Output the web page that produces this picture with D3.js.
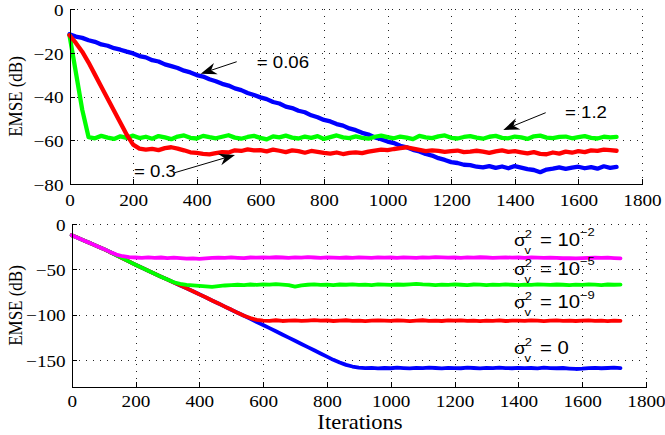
<!DOCTYPE html>
<html><head><meta charset="utf-8">
<script src="https://cdn.jsdelivr.net/npm/d3@7"></script>
<style>body{margin:0;background:#fff} svg{display:block}</style>
</head><body>
<svg id="chart" width="665" height="435"></svg>
<script>
// ---------------- data ----------------
const iterations = d3.range(0, 1721, 20); // 0..1720, step 20

// Top panel (step sizes)
const topBlue = [
 -11.5,-12.6,-13.2,-14.3,-15.0,-16.2,-16.8,-17.9,-18.6,-19.5,
 -20.3,-21.5,-22.1,-23.4,-24.0,-25.3,-26.1,-27.0,-28.2,-29.0,
 -30.2,-30.9,-32.1,-33.0,-34.2,-35.0,-36.3,-37.1,-38.4,-39.3,
 -40.4,-41.2,-42.5,-43.2,-44.6,-45.3,-46.5,-47.2,-48.6,-49.5,
 -50.7,-51.4,-52.6,-53.3,-54.6,-55.4,-56.6,-57.4,-58.7,-59.5,
 -60.6,-61.3,-62.5,-63.2,-64.4,-65.1,-66.3,-67.0,-68.2,-69.0,
 -70.0,-70.4,-71.2,-71.4,-72.1,-72.4,-71.8,-72.6,-72.0,-72.8,
 -71.8,-72.5,-73.2,-73.6,-74.6,-73.4,-73.0,-72.4,-73.1,-72.5,
 -72.1,-72.8,-72.3,-73.0,-71.9,-72.6,-72.2];
const topGreen = [
 -12,-29,-46,-58.6,-59.1,-58.0,-58.8,-59.4,-58.2,-58.9,
 -57.9,-59.0,-58.4,-59.3,-58.1,-58.7,-59.5,-58.3,-57.8,-58.9,
 -59.2,-58.0,-58.6,-59.1,-58.4,-57.7,-58.8,-59.3,-58.5,-58.0,
 -58.9,-59.6,-58.2,-58.7,-57.9,-58.8,-59.2,-58.3,-58.9,-58.1,
 -59.4,-58.6,-57.8,-58.7,-59.0,-58.2,-58.9,-59.3,-58.4,-57.9,
 -58.6,-59.1,-58.3,-58.8,-59.5,-58.0,-58.7,-59.0,-58.2,-57.8,
 -58.9,-59.2,-58.5,-58.1,-58.8,-59.3,-58.4,-58.0,-58.9,-59.1,
 -58.3,-58.7,-59.4,-58.2,-57.9,-58.8,-59.0,-58.5,-58.3,-59.1,
 -58.6,-58.1,-58.9,-59.2,-58.4,-58.7,-58.5];
const topRed = [
 -12,-15.5,-19.5,-24.5,-30,-35.5,-41,-46.5,-52,-57.5,
 -62.0,-63.8,-64.3,-63.9,-64.5,-63.6,-63.2,-63.8,-64.6,-65.5,
 -65.8,-66.2,-66.5,-65.9,-65.4,-65.6,-64.6,-64.9,-64.2,-64.6,
 -64.5,-65.1,-64.3,-64.8,-65.4,-64.6,-65.0,-65.7,-64.9,-65.3,
 -65.8,-66.1,-65.6,-66.3,-65.8,-65.5,-65.9,-65.2,-64.7,-64.3,
 -64.5,-64.0,-63.6,-63.2,-63.8,-64.4,-65.0,-64.6,-64.9,-65.3,
 -65.0,-64.7,-65.4,-65.2,-64.8,-65.2,-65.8,-65.1,-64.6,-65.3,
 -65.0,-65.5,-66.0,-65.4,-66.2,-66.4,-65.6,-66.1,-65.2,-65.7,
 -65.0,-65.4,-64.6,-64.9,-64.3,-64.5,-64.8];

// Bottom panel (noise variances)
const botBlue = [
 -12.5,-15.4,-18.6,-21.4,-24.6,-27.5,-31.0,-34.5,-38.0,-41.5,
 -45.0,-48.3,-51.6,-55.0,-58.2,-61.4,-64.6,-67.8,-71.0,-74.3,
 -77.6,-81.0,-84.4,-87.8,-91.2,-94.6,-98.0,-101.4,-104.8,-108.2,
 -111.6,-115.0,-118.5,-122.0,-125.5,-129.0,-132.5,-136.0,-139.5,-143.0,
 -146.5,-150.0,-153.0,-155.6,-157.4,-158.5,-159.2,-158.8,-159.4,-159.0,
 -159.3,-158.7,-159.1,-159.5,-158.9,-159.2,-158.6,-159.0,-159.4,-158.8,
 -159.1,-159.3,-158.7,-159.0,-159.5,-158.9,-159.2,-158.6,-159.1,-159.3,
 -158.8,-159.2,-159.0,-159.4,-158.7,-159.1,-159.3,-159.0,-159.6,-160.1,
 -159.8,-159.2,-158.9,-159.3,-159.0,-158.7,-159.1];
const botRed = [
 -12.5,-15.3,-18.5,-21.5,-24.5,-27.6,-31.1,-34.4,-38.1,-41.4,
 -45.1,-48.2,-51.7,-54.9,-58.3,-61.3,-64.7,-67.7,-71.1,-74.2,
 -77.7,-80.9,-84.5,-87.7,-91.3,-94.5,-98.1,-101.3,-103.9,-105.9,
 -106.6,-106.9,-106.3,-107.1,-106.7,-106.4,-107.0,-106.6,-106.2,-106.8,
 -106.5,-107.1,-106.7,-106.3,-106.9,-106.6,-107.2,-106.8,-106.4,-106.7,
 -107.0,-106.5,-106.8,-107.2,-106.6,-106.3,-106.9,-106.7,-107.1,-106.5,
 -106.8,-106.4,-107.0,-106.7,-107.2,-106.6,-106.9,-106.5,-107.1,-106.8,
 -106.6,-107.0,-106.4,-106.8,-107.2,-106.7,-106.5,-106.9,-106.6,-107.1,
 -106.8,-106.5,-107.0,-106.7,-107.2,-106.6,-106.9];
const botGreen = [
 -12.4,-15.5,-18.5,-21.4,-24.5,-27.5,-30.9,-34.5,-38.0,-41.5,
 -45.0,-48.3,-51.6,-55.0,-58.2,-61.4,-64.4,-66.2,-67.2,-67.8,
 -68.3,-68.8,-69.4,-68.7,-67.9,-67.4,-67.1,-67.5,-66.8,-67.2,
 -66.6,-67.0,-66.4,-66.9,-67.5,-69.2,-67.8,-67.1,-66.7,-67.2,
 -66.9,-67.4,-66.8,-67.1,-66.6,-67.2,-66.9,-67.4,-66.7,-67.0,
 -67.3,-66.8,-67.1,-66.6,-66.2,-66.7,-67.0,-67.4,-66.9,-67.2,
 -66.7,-67.1,-67.4,-66.8,-67.0,-67.5,-66.9,-67.2,-66.7,-67.1,
 -67.4,-66.9,-67.2,-66.6,-67.0,-67.3,-66.8,-67.1,-67.5,-66.9,
 -67.2,-66.7,-67.0,-67.4,-66.8,-67.1,-66.9];
const botMagenta = [
 -12.5,-15.4,-18.6,-21.4,-24.6,-27.5,-30.8,-33.8,-35.6,-36.6,
 -37.0,-37.4,-36.8,-37.3,-37.0,-37.6,-37.2,-37.8,-38.3,-38.0,
 -38.4,-37.9,-37.5,-37.1,-37.4,-36.9,-37.3,-37.6,-37.0,-37.2,
 -36.8,-37.1,-36.7,-37.0,-37.4,-36.9,-37.2,-36.6,-37.0,-37.3,
 -36.9,-37.2,-37.5,-37.0,-37.3,-36.8,-37.1,-37.4,-36.9,-37.2,
 -37.0,-37.3,-36.8,-37.1,-37.4,-36.9,-37.2,-36.6,-36.9,-37.2,
 -37.0,-37.3,-36.9,-37.2,-36.7,-37.0,-37.4,-37.1,-36.8,-37.2,
 -37.0,-37.3,-36.9,-37.2,-37.5,-37.1,-37.4,-37.8,-37.6,-37.9,
 -37.7,-37.4,-37.1,-37.5,-37.2,-37.6,-37.9];

const xTicks = [0,200,400,600,800,1000,1200,1400,1600,1800];
const topYTicks = [0,-20,-40,-60,-80];
const botYTicks = [0,-50,-100,-150];

const topLabels = ["= 0.06", "= 0.3", "= 1.2"];
const botLabelExps = ["−2", "−5", "−9", null];

// ---------------- drawing ----------------
const SX = 1.13;               // horizontal stretch of the original figure
const serif = "'Liberation Serif','Times New Roman',serif";
const sans = "'Liberation Sans',Arial,Helvetica,sans-serif";
const svg = d3.select("#chart");
svg.append("rect").attr("width",665).attr("height",435).attr("fill","#fff");

function panel(cfg) {
  const x = d3.scaleLinear().domain([0,1800]).range(cfg.xr);
  const y = d3.scaleLinear().domain(cfg.yd).range(cfg.yr);
  const g = svg.append("g");
  const grid = g.append("g").attr("stroke","#222").attr("stroke-width",1)
     .attr("stroke-dasharray","1,6").attr("shape-rendering","crispEdges");
  grid.selectAll("line.v").data(xTicks.filter(d=>d>0)).join("line").attr("class","v")
     .attr("x1",d=>Math.round(x(d))+0.5).attr("x2",d=>Math.round(x(d))+0.5)
     .attr("y1",cfg.yr[1]).attr("y2",cfg.yr[0]);
  grid.selectAll("line.h").data(cfg.yTicks.filter(d=>d>cfg.yd[0])).join("line").attr("class","h")
     .attr("y1",d=>Math.round(y(d))+0.5).attr("y2",d=>Math.round(y(d))+0.5)
     .attr("x1",cfg.xr[0]).attr("x2",cfg.xr[1]);
  const line = d3.line().x((d,i)=>x(iterations[i])).y(d=>y(d));
  cfg.series.forEach(s => {
    g.append("path").datum(s.values).attr("d",line).attr("fill","none")
      .attr("stroke",s.color).attr("stroke-width",cfg.sw)
      .attr("stroke-linejoin","round").attr("stroke-linecap","round");
  });
  const xa = g.append("g").attr("transform",`translate(0,${cfg.yr[0]})`)
    .call(d3.axisBottom(x).tickValues(xTicks).tickSizeInner(-5).tickSizeOuter(0).tickFormat(d3.format("d")));
  const ya = g.append("g").attr("transform",`translate(${cfg.xr[0]},0)`)
    .call(d3.axisLeft(y).tickValues(cfg.yTicks).tickSizeInner(-5).tickSizeOuter(0).tickFormat(d3.format("d")));
  [xa,ya].forEach(a=>{
    a.attr("font-family",serif).attr("font-size",17);
    a.selectAll("path,line").attr("stroke","#000").attr("shape-rendering","crispEdges");
    a.selectAll("text").attr("fill","#000");
  });
  xa.selectAll("text").attr("y",null).attr("dy",null)
    .attr("transform",`translate(0,${cfg.xLabelOff}) scale(${SX},1)`);
  ya.selectAll("text").attr("x",null).attr("dy",null)
    .attr("transform",`translate(-6,6.3) scale(${SX},1)`);
  svg.append("text").attr("font-family",serif).attr("font-size",17).attr("text-anchor","middle")
    .attr("transform",`translate(21.5,${(cfg.yr[0]+cfg.yr[1])/2}) scale(${SX},1) rotate(-90)`)
    .text("EMSE (dB)");
  return {x,y,g};
}

const topP = panel({
  xr:[69.5,642], yr:[184,9], yd:[-80,0], yTicks:topYTicks, sw:4.3, xLabelOff:21.5,
  series:[{values:topBlue,color:"#0000ff"},{values:topGreen,color:"#00ff00"},{values:topRed,color:"#ff0000"}]
});
const botP = panel({
  xr:[71.7,646], yr:[387,224], yd:[-180,0], yTicks:botYTicks, sw:3.8, xLabelOff:20.3,
  series:[{values:botBlue,color:"#0000ff"},{values:botRed,color:"#ff0000"},{values:botGreen,color:"#00ff00"},{values:botMagenta,color:"#ff00ff"}]
});

svg.append("text").attr("font-family",serif).attr("font-size",20).attr("text-anchor","middle")
  .attr("transform",`translate(360,428.8) scale(${SX},1)`).text("Iterations");

const topNotes = [
  {text:[588.6,-27.1], tail:[525.7,-24.1], tip:[412.5,-29.6]},
  {text:[202.8,-76.7], tail:[331.7,-74.8], tip:[520.3,-66.7]},
  {text:[1557.9,-50.0], tail:[1497.2,-47.4], tip:[1363.9,-55.3]}
];
topNotes.forEach((n,i)=>{
  const tx = topP.x(n.text[0]), ty = topP.y(n.text[1]);
  svg.append("text").attr("font-family",sans).attr("font-size",16.5)
    .attr("transform",`translate(${tx},${ty}) scale(${SX},1)`).text(topLabels[i]);
  const x0 = topP.x(n.tail[0]), y0 = topP.y(n.tail[1]);
  const x1 = topP.x(n.tip[0]), y1 = topP.y(n.tip[1]);
  const L = Math.hypot(x1-x0,y1-y0), ux=(x1-x0)/L, uy=(y1-y0)/L, px=-uy, py=ux;
  const HL=16, HW=6, NT=5;
  svg.append("line").attr("x1",x0).attr("y1",y0).attr("x2",x1-ux*(HL-NT)).attr("y2",y1-uy*(HL-NT))
    .attr("stroke","#000").attr("stroke-width",1);
  const pts = [[x1,y1],[x1-ux*HL+px*HW,y1-uy*HL+py*HW],[x1-ux*(HL-NT),y1-uy*(HL-NT)],[x1-ux*HL-px*HW,y1-uy*HL-py*HW]];
  svg.append("path").attr("d","M"+pts.map(p=>p.join(",")).join("L")+"Z").attr("fill","#000");
});

// bottom annotations: one text element each, sub/superscripts as tspans
const botNoteIter = 1386;
const botNoteLevels = [-24.0,-56.3,-93.1,-143.9];
botNoteLevels.forEach((lv,i)=>{
  const x0 = botP.x(botNoteIter), y0 = botP.y(lv);
  const t = svg.append("text").attr("font-family",sans).attr("font-size",18)
      .attr("transform",`translate(${x0},${y0}) scale(${SX},1)`);
  t.append("tspan").attr("x",0).attr("y",0).attr("font-size",17).text("σ");
  t.append("tspan").attr("x",9.6).attr("y",-8).attr("font-size",11.5).text("2");
  t.append("tspan").attr("x",9.4).attr("y",8).attr("font-size",11.5).text("v");
  t.append("tspan").attr("x",23).attr("y",0).text("= "+(botLabelExps[i]?"10":"0"));
  if (botLabelExps[i]) t.append("tspan").attr("y",-9.5).attr("font-size",11.5).text(botLabelExps[i]);
});
</script>
</body></html>
